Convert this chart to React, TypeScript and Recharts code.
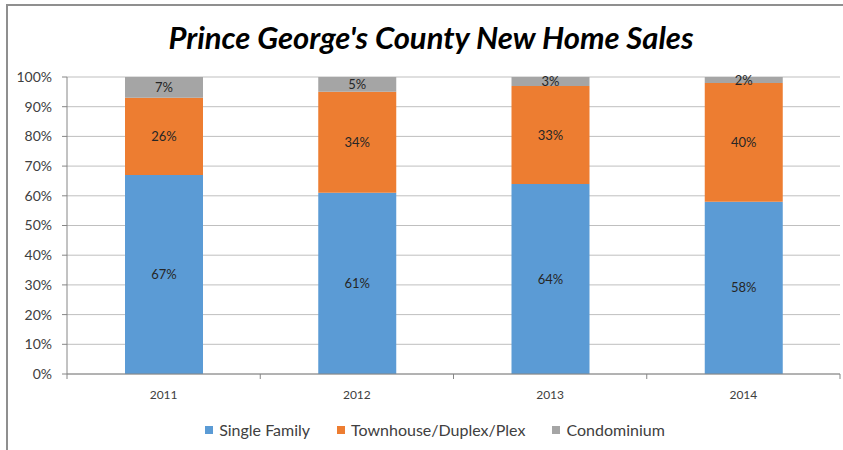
import React from 'react';
import { BarChart, Bar, XAxis, YAxis, CartesianGrid, LabelList } from 'recharts';

const years = ['2011', '2012', '2013', '2014'];
const singleFamily = [67, 61, 64, 58];
const townhouse = [26, 34, 33, 40];
const condo = [7, 5, 3, 2];
const yTicks = [0, 10, 20, 30, 40, 50, 60, 70, 80, 90, 100];

const series = [
  { key: 'single', name: 'Single Family', color: '#5B9BD5' },
  { key: 'town', name: 'Townhouse/Duplex/Plex', color: '#ED7D31' },
  { key: 'condo', name: 'Condominium', color: '#A5A5A5' },
];

const data = years.map((year, i) => ({
  year,
  single: singleFamily[i],
  town: townhouse[i],
  condo: condo[i],
}));

const FONT = 'Lato, "Open Sans", sans-serif';
const PLOT_LEFT = 67;
const PLOT_RIGHT = 840;
const BAND = (PLOT_RIGHT - PLOT_LEFT) / years.length;

const XTick = (props: any) => {
  const { x, y, payload, index } = props;
  const half = payload && payload.offset ? payload.offset : BAND / 2;
  return (
    <g>
      <line x1={x - half} x2={x - half} y1={y - 8} y2={y - 3} stroke="#868686" />
      {index === years.length - 1 && (
        <line x1={x + half} x2={x + half} y1={y - 8} y2={y - 3} stroke="#868686" />
      )}
      <text x={x} y={y + 17} textAnchor="middle" fill="#404040" fontSize={12} fontFamily={FONT}>
        {payload.value}
      </text>
    </g>
  );
};

const pct = (v: any) => `${v}%`;

export default function App() {
  return (
    <div style={{ position: 'absolute', left: 0, top: 0, width: 843, height: 450, overflow: 'hidden', background: '#fff' }}>
      <div
        style={{
          position: 'absolute',
          left: 6,
          top: 4,
          width: 900,
          height: 500,
          borderTop: '2px solid #8f8f8f',
          borderLeft: '2px solid #8f8f8f',
        }}
      />
      <div
        style={{
          position: 'absolute',
          top: 18,
          left: 0,
          width: 862,
          textAlign: 'center',
          fontFamily: FONT,
          fontWeight: 700,
          fontStyle: 'italic',
          fontSize: 31,
          color: '#000',
        }}
      >
        Prince George's County New Home Sales
      </div>
      <div style={{ position: 'absolute', left: 0, top: 0 }}>
        <BarChart
          width={843}
          height={450}
          data={data}
          margin={{ top: 77, right: 3, bottom: 46, left: 0 }}
          barSize={78}
        >
          <CartesianGrid vertical={false} stroke="#bfbfbf" />
          <XAxis
            dataKey="year"
            height={30}
            axisLine={{ stroke: '#868686' }}
            tickLine={false}
            tick={<XTick />}
            interval={0}
          />
          <YAxis
            width={67}
            domain={[0, 100]}
            ticks={yTicks}
            interval={0}
            tickFormatter={pct}
            axisLine={{ stroke: '#868686' }}
            tickLine={{ stroke: '#868686' }}
            tickSize={5}
            tickMargin={10}
            tick={{ fill: '#404040', fontSize: 14, fontFamily: FONT }}
          />
          {series.map((s) => (
            <Bar key={s.key} dataKey={s.key} name={s.name} stackId="a" fill={s.color} isAnimationActive={false}>
              <LabelList dataKey={s.key} position="center" formatter={pct} fill="#262626" fontSize={13} fontFamily={FONT} />
            </Bar>
          ))}
        </BarChart>
      </div>
      <div
        style={{
          position: 'absolute',
          top: 420,
          left: 195,
          width: 480,
          display: 'flex',
          justifyContent: 'center',
          gap: 27,
          fontFamily: FONT,
          fontSize: 16,
          color: '#404040',
        }}
      >
        {series.map((s) => (
          <div key={s.key} style={{ display: 'flex', alignItems: 'center' }}>
            <span style={{ width: 8, height: 8, background: s.color, display: 'inline-block', marginRight: 6 }} />
            <span>{s.name}</span>
          </div>
        ))}
      </div>
    </div>
  );
}
